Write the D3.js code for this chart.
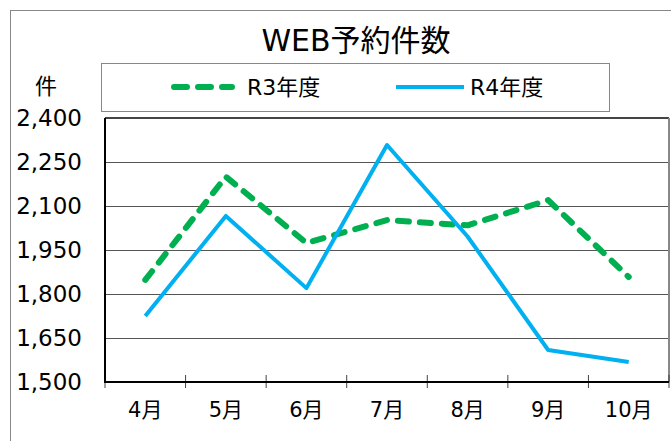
<!DOCTYPE html>
<html>
<head>
<meta charset="utf-8">
<script src="https://cdn.jsdelivr.net/npm/d3@7"></script>
<style>
  body { margin: 0; background: #fff; }
  text { font-family: "DejaVu Sans", "Noto Sans CJK JP", sans-serif; fill: #000; }
</style>
</head>
<body>
<script>
// data
var months = ["4月", "5月", "6月", "7月", "8月", "9月", "10月"];
var r3 = [1848, 2200, 1974, 2052, 2034, 2120, 1858];
var r4 = [1725, 2066, 1820, 2308, 1996, 1609, 1568];
var yTicks = [1500, 1650, 1800, 1950, 2100, 2250, 2400];
var seriesNames = ["R3年度", "R4年度"];

var width = 671,
    height = 441;

var svg = d3.select("body").append("svg")
    .attr("width", width)
    .attr("height", height);

// chart area border (runs off the picture on right/bottom)
svg.append("rect")
    .attr("x", 10.5).attr("y", 10.5)
    .attr("width", 700).attr("height", 500)
    .attr("fill", "none")
    .attr("stroke", "#888")
    .attr("stroke-width", 1);

var plot = {left: 105, right: 669, top: 118, bottom: 382};

var x = d3.scaleBand()
    .domain(months)
    .range([plot.left, plot.right]);

var y = d3.scaleLinear()
    .domain([1500, 2400])
    .range([plot.bottom, plot.top]);

// gridlines
svg.append("g")
    .attr("transform", "translate(" + plot.left + ",0)")
    .call(d3.axisLeft(y).tickValues(yTicks).tickSize(-(plot.right - plot.left)).tickFormat(""))
    .call(g => g.select(".domain").remove())
    .selectAll("line")
    .attr("stroke", "#555");

// plot border: top and right
svg.append("line")
    .attr("x1", plot.left).attr("x2", plot.right)
    .attr("y1", plot.top).attr("y2", plot.top)
    .attr("stroke", "#444").attr("stroke-width", 2);
svg.append("line")
    .attr("x1", plot.right).attr("x2", plot.right)
    .attr("y1", plot.top).attr("y2", plot.bottom)
    .attr("stroke", "#888").attr("stroke-width", 2);

// y labels
svg.append("g")
    .attr("transform", "translate(" + plot.left + ",0)")
    .call(d3.axisLeft(y).tickValues(yTicks).tickSize(0).tickPadding(23).tickFormat(d3.format(",")))
    .call(g => g.select(".domain").remove())
    .selectAll("text")
    .attr("font-size", 23)
    .attr("font-family", "DejaVu Sans, sans-serif");

// x axis labels
svg.append("g")
    .attr("transform", "translate(0," + plot.bottom + ")")
    .call(d3.axisBottom(x).tickSize(0).tickPadding(20))
    .call(g => g.select(".domain").remove())
    .selectAll("text")
    .attr("font-size", 21)
    .attr("font-family", "DejaVu Sans, Noto Sans CJK JP, sans-serif");

// cross tick marks at category boundaries
var bounds = months.map(d => x(d)).concat([x.range()[1]]);
svg.append("g").selectAll("line")
  .data(bounds)
  .enter().append("line")
    .attr("x1", d => d).attr("x2", d => d)
    .attr("y1", plot.bottom - 7).attr("y2", plot.bottom + 6)
    .attr("stroke", "#444").attr("stroke-width", 1);

// axes lines
svg.append("line")
    .attr("x1", plot.left).attr("x2", plot.left)
    .attr("y1", plot.top).attr("y2", plot.bottom + 1)
    .attr("stroke", "#000").attr("stroke-width", 2);
svg.append("line")
    .attr("x1", plot.left).attr("x2", plot.right)
    .attr("y1", plot.bottom).attr("y2", plot.bottom)
    .attr("stroke", "#000").attr("stroke-width", 2);

var line = d3.line()
    .x((d, i) => x(months[i]) + x.bandwidth() / 2)
    .y(d => y(d));

svg.append("path")
    .datum(r3)
    .attr("d", line)
    .attr("fill", "none")
    .attr("stroke", "#00B050")
    .attr("stroke-width", 6)
    .attr("stroke-linecap", "round")
    .attr("stroke-linejoin", "round")
    .attr("stroke-dasharray", "11,11");

svg.append("path")
    .datum(r4)
    .attr("d", line)
    .attr("fill", "none")
    .attr("stroke", "#00B0F0")
    .attr("stroke-width", 4)
    .attr("stroke-linejoin", "round");

// title
svg.append("text")
    .attr("x", 356)
    .attr("y", 51)
    .attr("text-anchor", "middle")
    .attr("font-size", 30)
    .text("WEB予約件数");

// unit label
svg.append("text")
    .attr("x", 46)
    .attr("y", 94)
    .attr("text-anchor", "middle")
    .attr("font-size", 22)
    .text("件");

// legend
var legend = svg.append("g");
legend.append("rect")
    .attr("x", 101.5).attr("y", 63.5)
    .attr("width", 508).attr("height", 48)
    .attr("fill", "#fff")
    .attr("stroke", "#888");

legend.append("line")
    .attr("x1", 174).attr("x2", 232)
    .attr("y1", 87).attr("y2", 87)
    .attr("stroke", "#00B050")
    .attr("stroke-width", 6)
    .attr("stroke-linecap", "round")
    .attr("stroke-dasharray", "13,11");
legend.append("text")
    .attr("x", 247).attr("y", 95)
    .attr("font-size", 22)
    .text(seriesNames[0]);

legend.append("line")
    .attr("x1", 396).attr("x2", 464)
    .attr("y1", 87).attr("y2", 87)
    .attr("stroke", "#00B0F0")
    .attr("stroke-width", 4);
legend.append("text")
    .attr("x", 470).attr("y", 95)
    .attr("font-size", 22)
    .text(seriesNames[1]);
</script>
</body>
</html>
